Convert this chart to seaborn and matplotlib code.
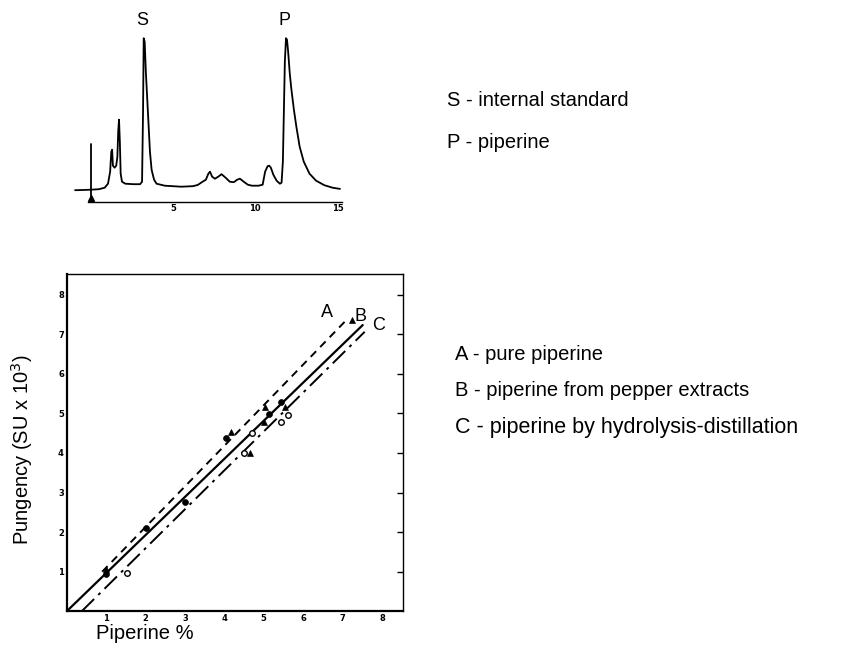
import matplotlib
matplotlib.use("Agg")
import matplotlib.pyplot as plt
import seaborn as sns
import pandas as pd


# ── Data ─────────────────────────────────────────────────────────────────────

# chromatogram trace (time in min, detector signal in arbitrary units)
chrom_time = [-0.95, -0.5, 0.0, 0.5, 0.85, 1.05, 1.18, 1.25, 1.3, 1.35,
              1.45, 1.55, 1.62, 1.67, 1.72, 1.77, 1.82, 1.9, 2.1, 2.6,
              3.0, 3.12, 3.18, 3.22, 3.28, 3.35, 3.5, 3.6, 3.7, 3.85,
              4.0, 4.5, 5.5, 6.2, 6.5, 6.8, 7.0, 7.15, 7.25, 7.38,
              7.55, 7.75, 7.95, 8.2, 8.45, 8.7, 8.9, 9.07, 9.3, 9.55,
              9.8, 10.2, 10.45, 10.6, 10.75, 10.85, 10.95, 11.1, 11.3, 11.5,
              11.6, 11.68, 11.74, 11.8, 11.87, 11.93, 12.0, 12.1, 12.2, 12.35,
              12.5, 12.7, 12.95, 13.3, 13.7, 14.2, 14.7, 15.15]
chrom_signal = [11.5, 11.7, 12, 12.5, 14, 18, 30, 50, 52, 36,
                34, 36, 45, 70, 82, 60, 28, 20, 18, 17.5,
                17.5, 20, 90, 163.5, 160, 130, 82, 50, 32, 22,
                18, 16, 15, 15.5, 16.7, 20, 22, 28, 30, 25,
                23, 25, 27.5, 24, 20, 19.5, 22, 23, 20, 17,
                16, 16, 17, 30, 35.5, 36, 34, 27, 21, 18,
                19, 40, 90, 140, 163.5, 162, 150, 128, 112, 92,
                75, 55, 40, 28, 21, 16.5, 14, 12.8]
inj_time = [0.0, 0.0]
inj_signal = [0.0, 58.0]
chrom_ticks = [5, 10, 15]
peak_names = ["S", "P"]
peak_time = [3.25, 11.9]
peak_label_signal = [181, 181]
peak_legend = ["S - internal standard", "P - piperine"]

# pungency vs piperine content
pure_x = [1.0, 4.16, 4.64, 5.03, 5.01, 5.53, 7.23]
pure_y = [1.07, 4.54, 4.0, 5.17, 4.77, 5.17, 7.37]
extract_x = [1.0, 2.0, 3.01, 4.04, 5.13, 5.43]
extract_y = [0.95, 2.11, 2.75, 4.39, 4.98, 5.29]
hydro_x = [1.52, 4.49, 4.69, 5.43, 5.62]
hydro_y = [0.98, 4.0, 4.5, 4.77, 4.97]

line_A_x = [0.9, 7.05]
line_A_y = [1.0, 7.31]
line_B_x = [0.0, 7.51]
line_B_y = [0.0, 7.23]
line_C_x = [0.38, 7.56]
line_C_y = [0.0, 7.06]
line_names = ["A", "B", "C"]
line_legend = ["A - pure piperine", "B - piperine from pepper extracts",
               "C - piperine by hydrolysis-distillation"]
line_legend_size = [14.5, 14.5, 15.5]
pung_ticks = [1, 2, 3, 4, 5, 6, 7, 8]


# ── Figure ───────────────────────────────────────────────────────────────────

sns.set_style("white")
plt.rcParams["font.family"] = ["Liberation Sans", "DejaVu Sans"]
plt.rcParams["text.color"] = "black"
plt.rcParams["axes.labelcolor"] = "black"
plt.rcParams["xtick.color"] = "black"
plt.rcParams["ytick.color"] = "black"

W, H = 841, 649
fig = plt.figure(figsize=(W / 100, H / 100), dpi=100)


def px_rect(left, top, right, bottom):
    return [left / W, 1 - bottom / H, (right - left) / W, (bottom - top) / H]


# ── Chromatogram ─────────────────────────────────────────────────────────────

ax1 = fig.add_axes(px_rect(70, 5, 350, 215))
chrom = pd.DataFrame({"time": chrom_time, "signal": chrom_signal})
sns.lineplot(data=chrom, x="time", y="signal", ax=ax1, color="black",
             linewidth=1.3, estimator=None, sort=False)
sns.lineplot(x=inj_time, y=inj_signal, ax=ax1, color="black",
             linewidth=1.3, estimator=None, sort=False)
ax1.plot([0.0], [4.0], marker="^", color="black", markersize=4)
for name, t, s in zip(peak_names, peak_time, peak_label_signal):
    ax1.text(t - 0.1, s, name, ha="center", va="center", fontsize=13)

ax1.set_xlim(-1.26, 15.76)
ax1.set_ylim(-13.3, 196.7)
for side in ["left", "right", "top"]:
    ax1.spines[side].set_visible(False)
ax1.spines["bottom"].set_position(("data", 0))
ax1.spines["bottom"].set_bounds(-0.15, 15.3)
ax1.spines["bottom"].set_linewidth(1.0)
ax1.spines["bottom"].set_color("black")
ax1.set_xticks(chrom_ticks)
ax1.set_xticklabels([str(t) for t in chrom_ticks], fontsize=6,
                    fontweight="bold", family="DejaVu Sans")
ax1.tick_params(axis="x", direction="in", length=4, width=1, pad=2)
ax1.set_yticks([])
ax1.set_xlabel("")
ax1.set_ylabel("")
ax1.patch.set_alpha(0)

for i, txt in enumerate(peak_legend):
    fig.text(447 / W, 1 - (100 + 43 * i) / H, txt, fontsize=14.5,
             ha="left", va="center")


# ── Pungency vs piperine ─────────────────────────────────────────────────────

ax2 = fig.add_axes(px_rect(66.7, 274, 403.3, 611.3))
sns.lineplot(x=line_A_x, y=line_A_y, ax=ax2, color="black", linewidth=1.4,
             estimator=None, sort=False)
ax2.lines[-1].set_dashes([4, 3])
sns.lineplot(x=line_B_x, y=line_B_y, ax=ax2, color="black", linewidth=1.6,
             estimator=None, sort=False)
sns.lineplot(x=line_C_x, y=line_C_y, ax=ax2, color="black", linewidth=1.4,
             estimator=None, sort=False)
ax2.lines[-1].set_dashes([9, 3, 1.5, 3])

sns.scatterplot(x=pure_x, y=pure_y, ax=ax2, marker="^", color="black",
                s=18, edgecolor="black", linewidth=0.5, zorder=3)
sns.scatterplot(x=extract_x, y=extract_y, ax=ax2, marker="o", color="black",
                s=18, edgecolor="black", linewidth=0.5, zorder=3)
sns.scatterplot(x=hydro_x, y=hydro_y, ax=ax2, marker="o", color="white",
                s=16, edgecolor="black", linewidth=1.0, zorder=3)

ends = [(line_A_x[-1] - 0.45, line_A_y[-1] + 0.25),
        (line_B_x[-1] - 0.05, line_B_y[-1] + 0.22),
        (line_C_x[-1] + 0.35, line_C_y[-1] + 0.15)]
for name, (lx, ly) in zip(line_names, ends):
    ax2.text(lx, ly, name, ha="center", va="center", fontsize=13)

ax2.set_xlim(0, 8.54)
ax2.set_ylim(0, 8.52)
ax2.set_xticks(pung_ticks)
ax2.set_yticks(pung_ticks)
ax2.set_xticklabels([str(t) for t in pung_ticks], fontsize=6,
                    fontweight="bold", family="DejaVu Sans")
ax2.set_yticklabels([str(t) for t in pung_ticks], fontsize=6,
                    fontweight="bold", family="DejaVu Sans")
ax2.tick_params(axis="both", direction="in", length=4, width=1, pad=2,
                right=True)
for side in ["left", "bottom"]:
    ax2.spines[side].set_linewidth(1.6)
    ax2.spines[side].set_color("black")
for side in ["top", "right"]:
    ax2.spines[side].set_linewidth(1.0)
    ax2.spines[side].set_color("black")
ax2.set_xlabel("Piperine %", fontsize=14.5)
ax2.xaxis.set_label_coords((145 - 66.7) / 336.6, -(624 - 611.3) / 337.3)
ax2.set_ylabel("Pungency (SU x 10$^3$)", fontsize=14.5)
ax2.yaxis.set_label_coords(-(66.7 - 35) / 336.6, (611.3 - 450) / 337.3)

for i, txt in enumerate(line_legend):
    fig.text(455 / W, 1 - (354 + 37 * i) / H, txt,
             fontsize=line_legend_size[i], ha="left", va="center")

plt.savefig("out.png", dpi=100)
plt.close()
